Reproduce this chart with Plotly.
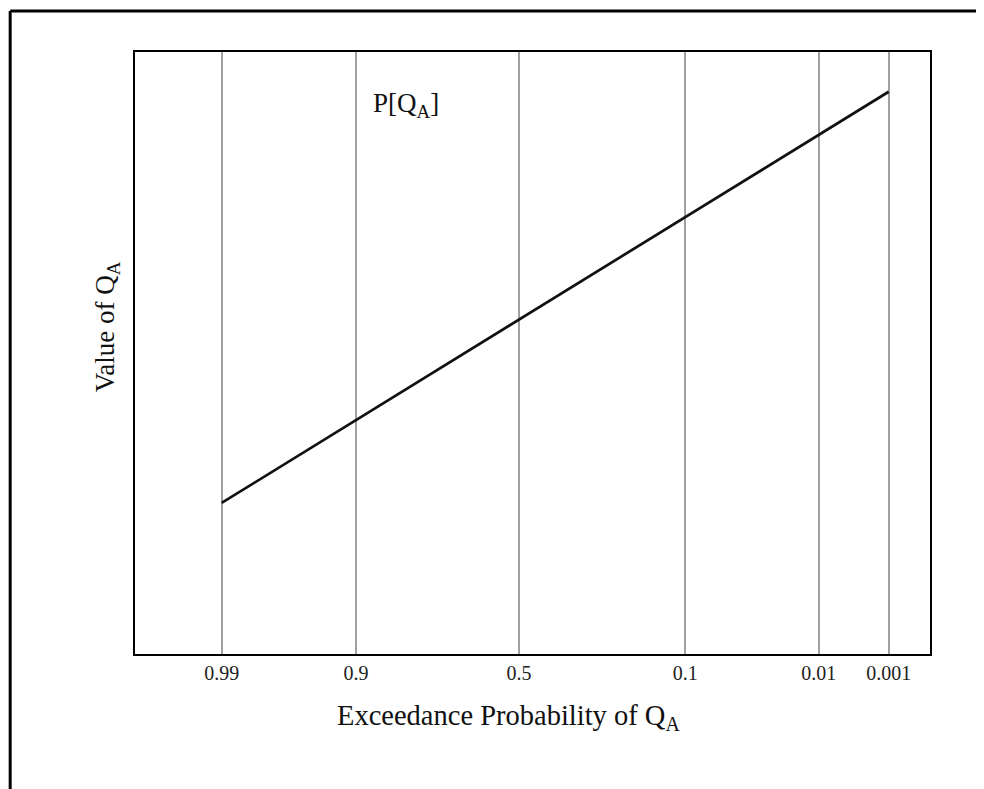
import plotly.graph_objects as go

# exceedance probability gridlines (positions, 0-100)
prob_labels = ['0.99', '0.9', '0.5', '0.1', '0.01', '0.001']
prob_pos = [10.9, 27.8, 48.3, 69.2, 86.0, 94.8]

# the Q_A line runs from the 0.99 gridline to the 0.001 gridline
line_x = [prob_pos[0], prob_pos[-1]]
line_y = [25.1, 93.4]

serif = 'Liberation Serif, Times New Roman, serif'

fig = go.Figure()

fig.add_trace(go.Scatter(
	x = line_x,
	y = line_y,
	mode = 'lines',
	line = dict(color = '#111111', width = 2.7),
	showlegend = False,
	hoverinfo = 'skip',
	))

# page adds ~8px offset, so the figure is a bit smaller than the window
fig.update_layout(
	width = 976,
	height = 781,
	margin = dict(l = 127, r = 54, t = 44, b = 135),
	paper_bgcolor = 'white',
	plot_bgcolor = 'white',
	font = dict(family = serif, size = 20, color = '#111111'),
	xaxis = dict(
		range = [0, 100],
		tickvals = prob_pos,
		ticktext = prob_labels,
		tickfont = dict(size = 20, family = serif, color = '#222222'),
		ticks = '',
		showgrid = True,
		gridcolor = '#a0a0a0',
		gridwidth = 1.5,
		zeroline = False,
		showline = True,
		linecolor = 'black',
		linewidth = 2,
		mirror = True,
		fixedrange = True,
		),
	yaxis = dict(
		range = [0, 100],
		showticklabels = False,
		ticks = '',
		showgrid = False,
		zeroline = False,
		showline = True,
		linecolor = 'black',
		linewidth = 2,
		mirror = True,
		fixedrange = True,
		),
	annotations = [
		dict(text = 'Exceedance Probability of Q<sub>A</sub>',
			xref = 'paper', yref = 'paper', x = 0.47, y = -0.106,
			xanchor = 'center', yanchor = 'middle', showarrow = False,
			font = dict(size = 28.5, family = serif, color = '#111111')),
		dict(text = 'Value of Q<sub>A</sub>',
			xref = 'paper', yref = 'paper', x = -0.035, y = 0.543,
			xanchor = 'center', yanchor = 'middle', textangle = -90, showarrow = False,
			font = dict(size = 27, family = serif, color = '#111111')),
		dict(text = 'P[Q<sub>A</sub>]',
			xref = 'paper', yref = 'paper', x = 0.341, y = 0.912,
			xanchor = 'center', yanchor = 'middle', showarrow = False,
			font = dict(size = 27, family = serif, color = '#111111')),
		],
	shapes = [
		# outer frame of the figure (top and left edges)
		dict(type = 'line', xref = 'paper', yref = 'paper',
			x0 = -0.157, x1 = 1.07, y0 = 1.068, y1 = 1.068,
			line = dict(color = 'black', width = 3)),
		dict(type = 'line', xref = 'paper', yref = 'paper',
			x0 = -0.157, x1 = -0.157, y0 = 1.068, y1 = -0.3,
			line = dict(color = 'black', width = 3)),
		],
	)

fig.write_html('out.html')
